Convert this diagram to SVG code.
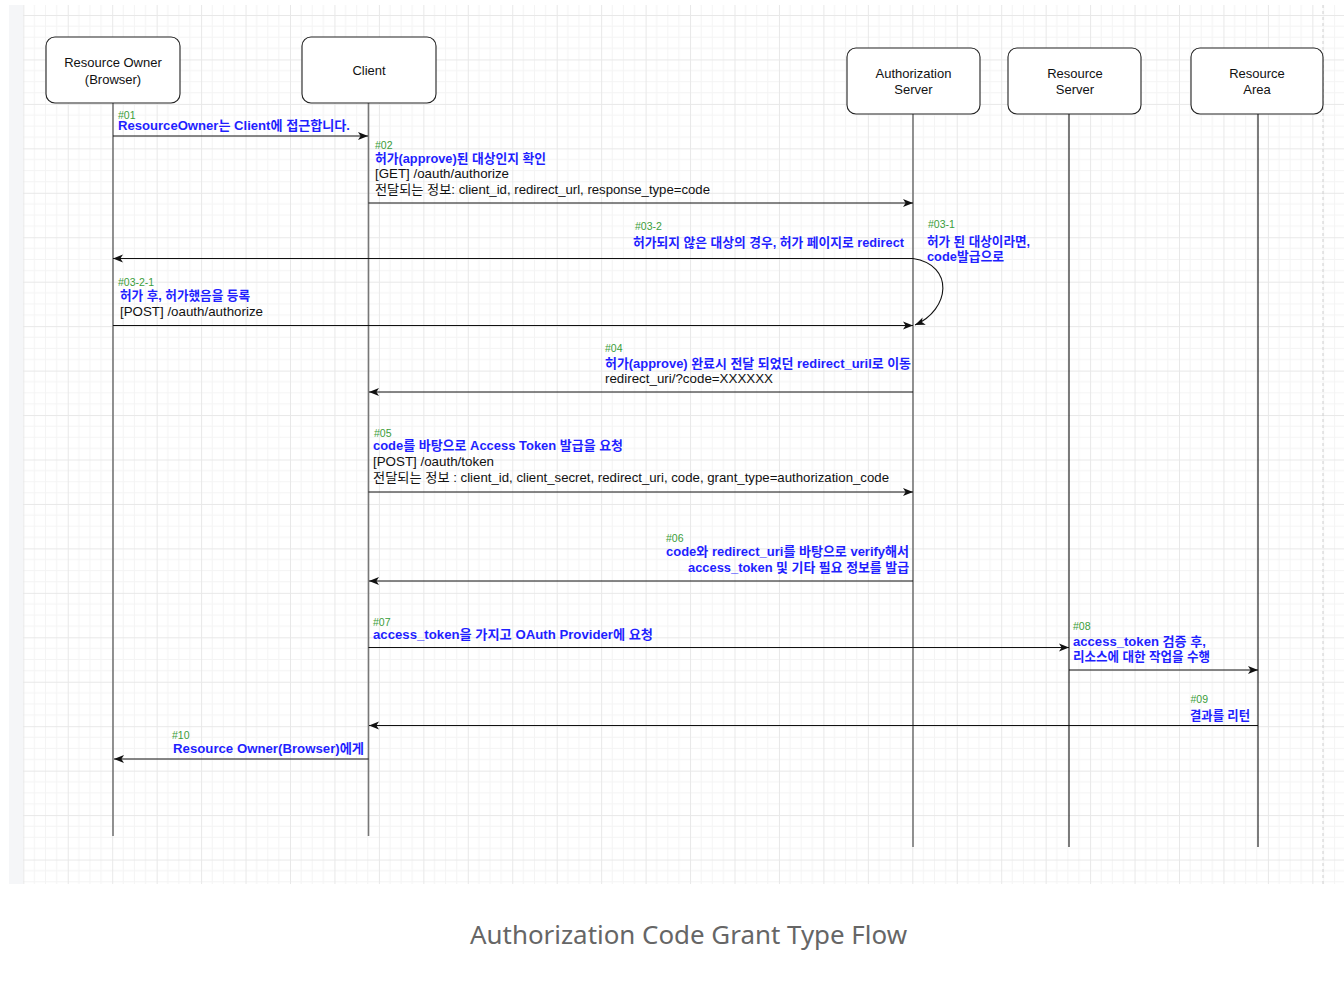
<svg xmlns="http://www.w3.org/2000/svg" width="1344" height="982" viewBox="0 0 1344 982">
<style>
.nb{fill:#fff;stroke:#222;stroke-width:1.1}
.nt{font-family:"Liberation Sans","Noto Sans CJK KR",sans-serif;font-size:13px;fill:#111;text-anchor:middle}
.ll{stroke:#777;stroke-width:1.6;fill:none}
.lk{stroke:#111;stroke-width:1.1;fill:none}
.msg{stroke:#111;stroke-width:1.1;fill:none;marker-end:url(#ah)}
.g{font-family:"Liberation Sans",sans-serif;font-size:10.5px;fill:#3a9d3a}
.b{font-family:"Liberation Sans","Noto Sans CJK KR",sans-serif;font-size:13px;font-weight:bold;fill:#1f1fff}
.k{font-family:"Liberation Sans","Noto Sans CJK KR",sans-serif;font-size:13px;fill:#111}
.e{text-anchor:end}
.cap{font-family:"Noto Sans","Open Sans",sans-serif;font-size:26px;fill:#666;text-anchor:middle}
</style>
<defs>
<pattern id="grid" x="23.3" y="15" width="44.45" height="44.45" patternUnits="userSpaceOnUse">
<path d="M11.11,0V44.45M22.22,0V44.45M33.34,0V44.45M0,11.11H44.45M0,22.22H44.45M0,33.34H44.45" stroke="#f4f4f4" stroke-width="1" fill="none"/>
<path d="M0.5,0V44.45M0,0.5H44.45" stroke="#e8e8e8" stroke-width="1" fill="none"/>
</pattern>
<marker id="ah" markerWidth="11" markerHeight="9" refX="10" refY="4.5" orient="auto" markerUnits="userSpaceOnUse">
<path d="M0,0.5 L10,4.5 L0,8.5 L2.6,4.5 Z" fill="#111"/>
</marker>
</defs>
<rect x="0" y="0" width="1344" height="982" fill="#fff"/>
<rect x="9" y="5" width="14" height="879" fill="#f5f6f8"/>
<rect x="23" y="5" width="1321" height="879" fill="url(#grid)"/>
<line x1="1323" y1="5" x2="1323" y2="884" stroke="#d0d0d0" stroke-width="1" stroke-dasharray="3,3"/>

<g id="lifelines">
<line class="ll" x1="113" y1="103" x2="113" y2="836"/>
<line class="ll" x1="368.5" y1="103" x2="368.5" y2="836"/>
<line class="ll" x1="913" y1="114" x2="913" y2="847"/>
<line class="lk" x1="1069" y1="114" x2="1069" y2="847"/>
<line class="lk" x1="1258" y1="114" x2="1258" y2="847"/>
</g>

<g id="node-resource-owner">
<rect class="nb" x="46" y="37" width="134" height="66" rx="9"/>
<text class="nt" x="113" y="67">Resource Owner</text>
<text class="nt" x="113" y="83.5">(Browser)</text>
</g>
<g id="node-client">
<rect class="nb" x="302" y="37" width="134" height="66" rx="9"/>
<text class="nt" x="369" y="74.5">Client</text>
</g>
<g id="node-authorization-server">
<rect class="nb" x="847" y="48" width="133" height="66" rx="9"/>
<text class="nt" x="913.5" y="78">Authorization</text>
<text class="nt" x="913.5" y="93.5">Server</text>
</g>
<g id="node-resource-server">
<rect class="nb" x="1008" y="48" width="133" height="66" rx="9"/>
<text class="nt" x="1075" y="78">Resource</text>
<text class="nt" x="1075" y="93.5">Server</text>
</g>
<g id="node-resource-area">
<rect class="nb" x="1191" y="48" width="132" height="66" rx="9"/>
<text class="nt" x="1257" y="78">Resource</text>
<text class="nt" x="1257" y="93.5">Area</text>
</g>

<g id="connectors">
<line class="msg" x1="113" y1="136" x2="368" y2="136"/>
<line class="msg" x1="368.5" y1="203" x2="913" y2="203"/>
<line class="msg" x1="913" y1="258.5" x2="113" y2="258.5"/>
<path class="msg" d="M913,258.5 C955,265 950,310 915,325"/>
<line class="msg" x1="113" y1="325.5" x2="913" y2="325.5"/>
<line class="msg" x1="913" y1="392" x2="369" y2="392"/>
<line class="msg" x1="368.5" y1="492" x2="913" y2="492"/>
<line class="msg" x1="913" y1="581" x2="369" y2="581"/>
<line class="msg" x1="368.5" y1="647.5" x2="1069" y2="647.5"/>
<line class="msg" x1="1069" y1="670" x2="1258" y2="670"/>
<line class="msg" x1="1258" y1="725.5" x2="369" y2="725.5"/>
<line class="msg" x1="368.5" y1="759" x2="114" y2="759"/>
</g>

<g id="labels">
<text class="g" x="118" y="118.5">#01</text>
<text class="b" x="118" y="130" textLength="232" lengthAdjust="spacingAndGlyphs">ResourceOwner는 Client에 접근합니다.</text>

<text class="g" x="375" y="148.5">#02</text>
<text class="b" x="375" y="162.5" textLength="171" lengthAdjust="spacingAndGlyphs">허가(approve)된 대상인지 확인</text>
<text class="k" x="375" y="178" textLength="134" lengthAdjust="spacingAndGlyphs">[GET] /oauth/authorize</text>
<text class="k" x="375" y="193.5" textLength="335" lengthAdjust="spacingAndGlyphs">전달되는 정보: client_id, redirect_url, response_type=code</text>

<text class="g" x="635" y="230">#03-2</text>
<text class="b" x="633" y="247" textLength="271" lengthAdjust="spacingAndGlyphs">허가되지 않은 대상의 경우, 허가 페이지로 redirect</text>

<text class="g" x="928" y="227.5">#03-1</text>
<text class="b" x="927" y="246" textLength="103" lengthAdjust="spacingAndGlyphs">허가 된 대상이라면,</text>
<text class="b" x="927" y="260.5" textLength="77" lengthAdjust="spacingAndGlyphs">code발급으로</text>

<text class="g" x="118" y="286">#03-2-1</text>
<text class="b" x="120" y="299.5" textLength="130" lengthAdjust="spacingAndGlyphs">허가 후, 허가했음을 등록</text>
<text class="k" x="120" y="316" textLength="143" lengthAdjust="spacingAndGlyphs">[POST] /oauth/authorize</text>

<text class="g" x="605" y="351.5">#04</text>
<text class="b" x="605" y="367.5" textLength="306" lengthAdjust="spacingAndGlyphs">허가(approve) 완료시 전달 되었던 redirect_uril로 이동</text>
<text class="k" x="605" y="382.5" textLength="168" lengthAdjust="spacingAndGlyphs">redirect_uri/?code=XXXXXX</text>

<text class="g" x="374" y="436.5">#05</text>
<text class="b" x="373" y="450.3" textLength="250" lengthAdjust="spacingAndGlyphs">code를 바탕으로 Access Token 발급을 요청</text>
<text class="k" x="373" y="466" textLength="121" lengthAdjust="spacingAndGlyphs">[POST] /oauth/token</text>
<text class="k" x="373" y="481.5" textLength="516" lengthAdjust="spacingAndGlyphs">전달되는 정보 : client_id, client_secret, redirect_uri, code, grant_type=authorization_code</text>

<text class="g" x="666" y="541.5">#06</text>
<text class="b" x="666" y="555.5" textLength="243" lengthAdjust="spacingAndGlyphs">code와 redirect_uri를 바탕으로 verify해서</text>
<text class="b" x="688" y="571.5" textLength="221" lengthAdjust="spacingAndGlyphs">access_token 및 기타 필요 정보를 발급</text>

<text class="g" x="373" y="625.5">#07</text>
<text class="b" x="373" y="638.5" textLength="280" lengthAdjust="spacingAndGlyphs">access_token을 가지고  OAuth Provider에 요청</text>

<text class="g" x="1073" y="629.5">#08</text>
<text class="b" x="1073" y="646" textLength="133" lengthAdjust="spacingAndGlyphs">access_token 검증 후,</text>
<text class="b" x="1073" y="660.5" textLength="137" lengthAdjust="spacingAndGlyphs">리소스에 대한 작업을 수행</text>

<text class="g" x="1190.5" y="702.5">#09</text>
<text class="b" x="1190" y="719.5" textLength="60" lengthAdjust="spacingAndGlyphs">결과를 리턴</text>

<text class="g" x="172" y="738.5">#10</text>
<text class="b" x="173" y="752.5" textLength="191" lengthAdjust="spacingAndGlyphs">Resource Owner(Browser)에게</text>
</g>

<text class="cap" x="688.5" y="944" textLength="437" lengthAdjust="spacingAndGlyphs">Authorization Code Grant Type Flow</text>
</svg>
